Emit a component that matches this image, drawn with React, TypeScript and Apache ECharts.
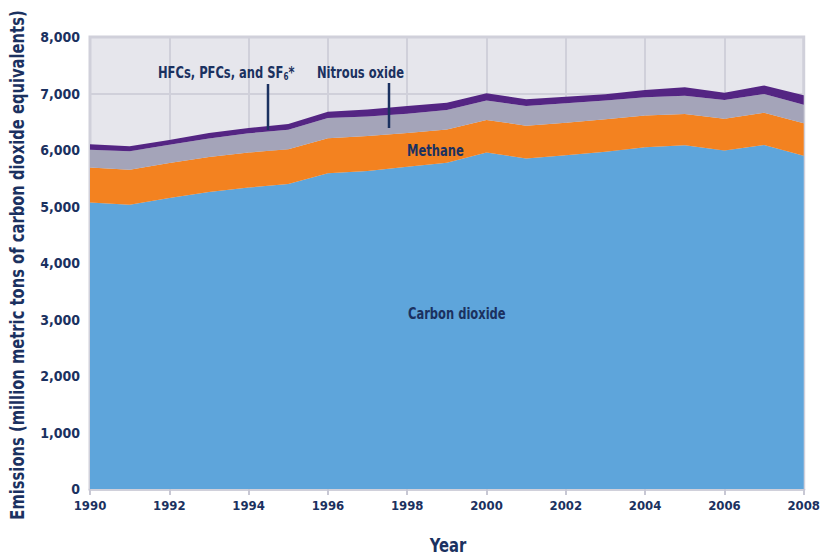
import React, { useEffect, useRef } from "react";
import * as echarts from "echarts";

const years = ["1990", "1991", "1992", "1993", "1994", "1995", "1996", "1997", "1998", "1999", "2000", "2001", "2002", "2003", "2004", "2005", "2006", "2007", "2008"];
const carbonDioxide = [5070, 5030, 5150, 5255, 5335, 5400, 5590, 5630, 5705, 5775, 5955, 5850, 5905, 5970, 6050, 6085, 5990, 6090, 5900];
const methane = [620, 620, 622, 620, 620, 612, 617, 618, 595, 590, 578, 580, 578, 573, 562, 550, 565, 570, 572];
const nitrousOxide = [315, 330, 320, 330, 340, 348, 360, 345, 342, 342, 342, 348, 343, 332, 322, 325, 330, 330, 330];
const hfcs = [95, 85, 85, 95, 95, 100, 110, 125, 135, 130, 130, 120, 115, 110, 130, 150, 130, 150, 165];

const FONT = "'DejaVu Sans Condensed', 'Liberation Sans Narrow', 'Roboto', sans-serif";
const TEXT = "#1b3160";
const GRIDC = "#d0d0da";

function area(name: string, vals: number[], color: string) {
  return {
    name,
    type: "line",
    stack: "total",
    data: vals,
    symbol: "none",
    lineStyle: { width: 0 },
    areaStyle: { color, opacity: 1 },
    itemStyle: { color },
  };
}

function label(text: string, x: number, y: number, size: number) {
  return {
    type: "text",
    x,
    y,
    z: 100,
    scaleX: 0.8,
    style: {
      text,
      fontFamily: FONT,
      fontWeight: "bold",
      fontSize: size,
      fill: TEXT,
      textAlign: "left",
      textVerticalAlign: "middle",
    },
  };
}

export default function App() {
  const ref = useRef<HTMLDivElement>(null);
  useEffect(() => {
    if (!ref.current) return;
    const chart = echarts.init(ref.current, null, { renderer: "svg" });
    chart.setOption({
      animation: false,
      grid: {
        left: 90,
        right: 17,
        top: 37,
        bottom: 69,
        show: true,
        backgroundColor: "#e6e6ec",
        borderColor: GRIDC,
        borderWidth: 3,
      },
      xAxis: {
        type: "category",
        data: years,
        boundaryGap: false,
        axisLine: { show: true, lineStyle: { color: GRIDC, width: 3 } },
        axisTick: { show: true, interval: 1, length: 6, lineStyle: { color: "#c8c8d4", width: 2 } },
        axisLabel: {
          interval: 1,
          fontFamily: FONT,
          fontWeight: "bold",
          fontSize: 13,
          color: TEXT,
          margin: 10,
        },
        splitLine: { show: true, interval: 1, lineStyle: { color: GRIDC, width: 2 } },
      },
      yAxis: {
        type: "value",
        min: 0,
        max: 8000,
        interval: 1000,
        axisLine: { show: false },
        axisTick: { show: false },
        axisLabel: {
          formatter: (v: number) => v.toLocaleString("en-US"),
          fontFamily: FONT,
          fontWeight: "bold",
          fontSize: 14,
          color: TEXT,
          margin: 10,
        },
        splitLine: { show: true, lineStyle: { color: GRIDC, width: 2 } },
      },
      series: [
        area("Carbon dioxide", carbonDioxide, "#5ea5db"),
        area("Methane", methane, "#f38220"),
        area("Nitrous oxide", nitrousOxide, "#a4a4b9"),
        area("HFCs, PFCs, and SF6", hfcs, "#542583"),
      ],
      graphic: [
        {
          type: "text",
          x: 17,
          y: 265,
          z: 100,
          rotation: Math.PI / 2,
          scaleX: 0.82,
          style: {
            text: "Emissions (million metric tons of carbon dioxide equivalents)",
            fontFamily: FONT,
            fontWeight: "bold",
            fontSize: 20,
            fill: TEXT,
            textAlign: "center",
            textVerticalAlign: "middle",
          },
        },
        {
          type: "text",
          x: 448,
          y: 545,
          z: 100,
          scaleX: 0.82,
          style: {
            text: "Year",
            fontFamily: FONT,
            fontWeight: "bold",
            fontSize: 20,
            fill: TEXT,
            textAlign: "center",
            textVerticalAlign: "middle",
          },
        },
        {
          type: "text",
          x: 158,
          y: 72,
          z: 100,
          scaleX: 0.8,
          style: {
            text: "{a|HFCs, PFCs, and SF}{s|6}{a|*}",
            textVerticalAlign: "middle",
            rich: {
              a: { fontFamily: FONT, fontWeight: "bold", fontSize: 16, fill: TEXT, verticalAlign: "middle", lineHeight: 20 },
              s: { fontFamily: FONT, fontWeight: "bold", fontSize: 10, fill: TEXT, verticalAlign: "bottom", lineHeight: 5 },
            },
          },
        },
        { type: "line", z: 100, shape: { x1: 268, y1: 84, x2: 268, y2: 130 }, style: { stroke: TEXT, lineWidth: 2.5 } },
        label("Nitrous oxide", 317, 72, 16),
        { type: "line", z: 100, shape: { x1: 389, y1: 83, x2: 389, y2: 128 }, style: { stroke: TEXT, lineWidth: 2.5 } },
        label("Methane", 407, 150, 16),
        label("Carbon dioxide", 408, 313, 16),
      ],
    });
    return () => chart.dispose();
  }, []);
  return <div ref={ref} style={{ position: "absolute", left: 0, top: 0, width: 823, height: 558 }} />;
}
